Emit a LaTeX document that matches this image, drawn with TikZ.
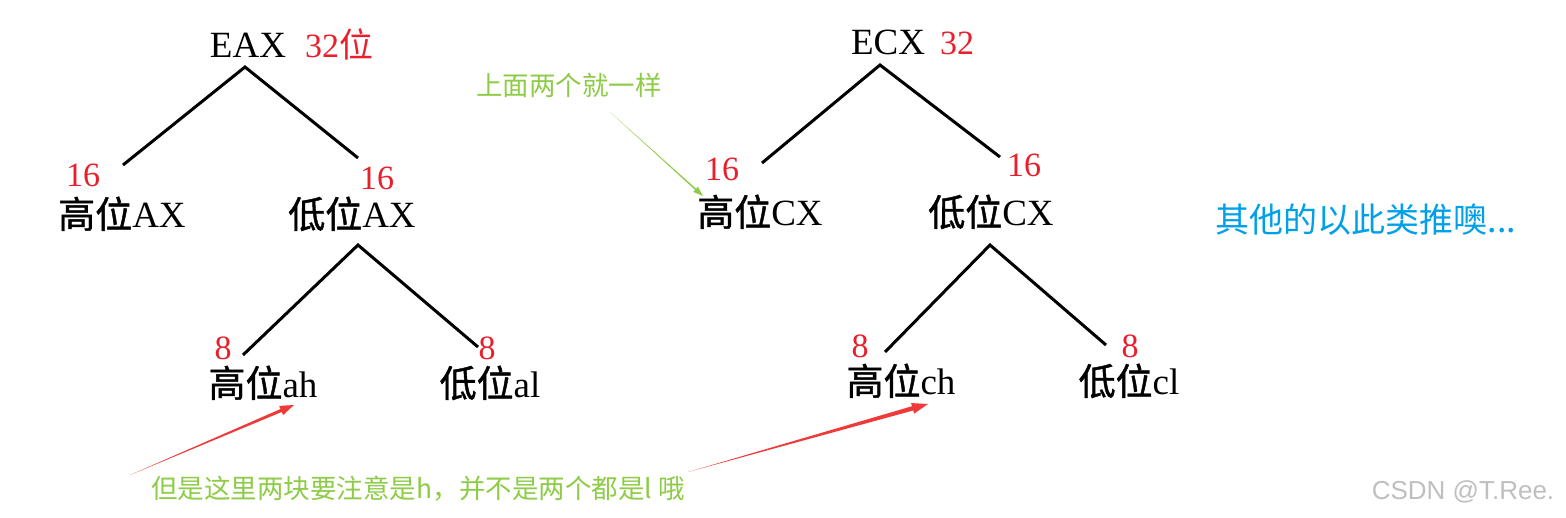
\documentclass[tikz,border=0pt]{standalone}
\usepackage{fontspec}
\setmainfont{Liberation Serif}
\newfontfamily\cjk{Noto Sans CJK SC}
\newfontfamily\cjkb{Noto Sans CJK SC}[FakeBold=1.2]
\newfontfamily\wmfont{Liberation Sans}
\usetikzlibrary{calc}
\definecolor{numred}{RGB}{232,32,44}
\definecolor{notegreen}{RGB}{142,204,72}
\definecolor{noteblue}{RGB}{0,160,233}
\definecolor{arrred}{RGB}{240,58,58}
\newcommand\taperarrow[6]{%
  \coordinate (tbase) at ($(#3)!#4!(#2)$);
  \fill[#1] (#2) -- ($(tbase)!#5!90:(#3)$) -- ($(tbase)!#6!90:(#3)$) -- (#3)
     -- ($(tbase)!#6!-90:(#3)$) -- ($(tbase)!#5!-90:(#3)$) -- cycle;}
\begin{document}
\begin{tikzpicture}[x=1pt,y=-1pt,
  lbl/.style={font=\fontsize{37}{42}\selectfont, anchor=base, inner sep=0pt},
  num/.style={font=\fontsize{34}{40}\selectfont, text=numred, anchor=base, inner sep=0pt},
  branch/.style={line width=3pt},
  note/.style={font=\cjk\fontsize{26.5}{30}\selectfont, text=notegreen, inner sep=0pt}]
\useasboundingbox (0,0) rectangle (1566,518);
\fill[white] (0,0) rectangle (1566,518);

% ---- tree 1 ----
\node[lbl] (eax) at (248,58) {EAX};
\node[num, anchor=base west] (eaxn) at (305,58) {32{\cjk 位}};
\coordinate (a1) at (245,67);
\coordinate (a1l) at (123,165);
\coordinate (a1r) at (358,158);
\draw[branch] (a1l) -- (a1) -- (a1r);
\node[num] (n16a) at (83,187) {16};
\node[num] (n16b) at (377,190) {16};
\node[lbl] (hax) at (122,228) {{\cjkb 高位}AX};
\node[lbl] (lax) at (352,228) {{\cjkb 低位}AX};
\coordinate (a2) at (358,245);
\coordinate (a2l) at (243,355);
\coordinate (a2r) at (478,347);
\draw[branch] (a2l) -- (a2) -- (a2r);
\node[num] (n8a) at (223,360) {8};
\node[num] (n8b) at (487,360) {8};
\node[lbl] (hah) at (263,397) {{\cjkb 高位}ah};
\node[lbl] (lal) at (490,397) {{\cjkb 低位}al};

% ---- tree 2 ----
\node[lbl] (ecx) at (888,55) {ECX};
\node[num, anchor=base west] (ecxn) at (940,55) {32};
\coordinate (b1) at (880,65);
\coordinate (b1l) at (762,163);
\coordinate (b1r) at (1000,157);
\draw[branch] (b1l) -- (b1) -- (b1r);
\node[num] (n16c) at (722,181) {16};
\node[num] (n16d) at (1024,177) {16};
\node[lbl] (hcx) at (760,226) {{\cjkb 高位}CX};
\node[lbl] (lcx) at (991,226) {{\cjkb 低位}CX};
\coordinate (b2) at (990,245);
\coordinate (b2l) at (885,352);
\coordinate (b2r) at (1106,345);
\draw[branch] (b2l) -- (b2) -- (b2r);
\node[num] (n8c) at (860,358) {8};
\node[num] (n8d) at (1130,358) {8};
\node[lbl] (hch) at (901,395) {{\cjkb 高位}ch};
\node[lbl] (lcl) at (1129,395) {{\cjkb 低位}cl};

% ---- notes ----
\node[note] (same) at (569,85) {上面两个就一样};
\coordinate (gs) at (610,112);
\coordinate (ge) at (703,196);
\taperarrow{notegreen}{gs}{ge}{10pt}{0.8pt}{3.5pt}

\node[note] (warn) at (418,489) {但是这里两块要注意是h，并不是两个都是l 哦};
\coordinate (r1s) at (130,475);
\coordinate (r1e) at (294,405);
\taperarrow{arrred}{r1s}{r1e}{14pt}{1.6pt}{5pt}
\coordinate (r2s) at (688,472);
\coordinate (r2e) at (928,404);
\taperarrow{arrred}{r2s}{r2e}{16pt}{2.2pt}{5.5pt}

\node[font=\cjk\fontsize{34}{38}\selectfont, text=noteblue, inner sep=0pt] (other) at (1366,220) {其他的以此类推噢...};

\node[font=\wmfont\fontsize{26}{30}\selectfont, text=black!25, anchor=base, inner sep=0pt] (wm) at (1463,499) {CSDN @T.Ree.};
\end{tikzpicture}
\end{document}
